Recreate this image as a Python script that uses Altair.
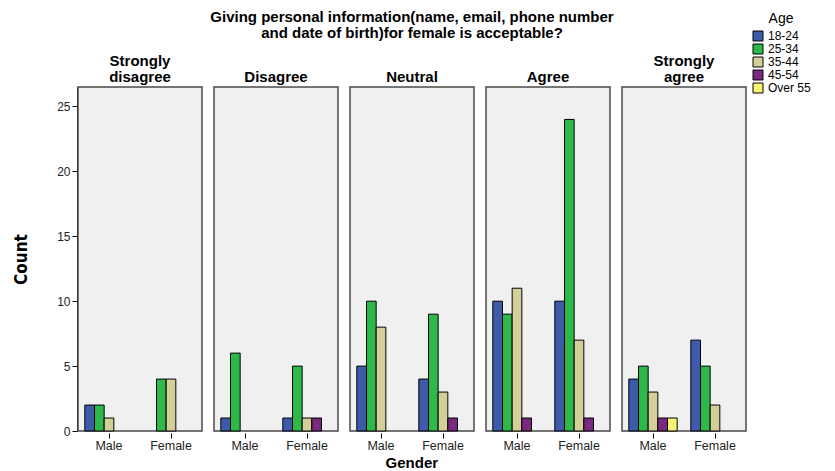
import altair as alt
import pandas as pd

responses = ["Strongly disagree", "Disagree", "Neutral", "Agree", "Strongly agree"]
genders = ["Male", "Female"]
ages = ["18-24", "25-34", "35-44", "45-54", "Over 55"]
colors = ["#3d5bab", "#2db84a", "#d4cf98", "#7a2a7e", "#f5f56f"]

# counts[response][gender] -> list over ages
counts = {
    "Strongly disagree": {"Male": [2, 2, 1, 0, 0], "Female": [0, 4, 4, 0, 0]},
    "Disagree": {"Male": [1, 6, 0, 0, 0], "Female": [1, 5, 1, 1, 0]},
    "Neutral": {"Male": [5, 10, 8, 0, 0], "Female": [4, 9, 3, 1, 0]},
    "Agree": {"Male": [10, 9, 11, 1, 0], "Female": [10, 24, 7, 1, 0]},
    "Strongly agree": {"Male": [4, 5, 3, 1, 1], "Female": [7, 5, 2, 0, 0]},
}

rows = []
for r in responses:
    for g in genders:
        for a, v in zip(ages, counts[r][g]):
            if v > 0:
                rows.append({"Response": r, "Gender": g, "Age": a, "Count": v})
df = pd.DataFrame(rows)

FONT = "Liberation Sans"
NARROW = "DejaVu Sans Condensed, Liberation Sans, sans-serif"

base = alt.Chart(df).mark_bar(stroke="black", strokeWidth=1).encode(
    x=alt.X("Gender:N", sort=genders, title=None,
            scale=alt.Scale(paddingInner=0.22, paddingOuter=0.11),
            axis=alt.Axis(labelAngle=0, labelFontSize=12.5, labelColor="#222",
                          tickColor="black", tickSize=5, domain=False,
                          labelPadding=1, labelFont=FONT)),
    xOffset=alt.XOffset("Age:N", sort=ages, scale=alt.Scale(domain=ages, paddingInner=0, paddingOuter=0)),
    y=alt.Y("Count:Q", title="Count",
            scale=alt.Scale(domain=[0, 26.5], nice=False),
            axis=alt.Axis(values=[0, 5, 10, 15, 20, 25], grid=False, domainColor="black",
                          tickColor="black", tickSize=5, labelFontSize=12, labelColor="#222",
                          labelFont=FONT, titleFont=NARROW,
                          titleFontSize=17, titleFontWeight="bold", titleColor="black",
                          titlePadding=26)),
    color=alt.Color("Age:N", sort=ages, scale=alt.Scale(domain=ages, range=colors),
                    legend=alt.Legend(title="Age", orient="none", legendX=674, legendY=-75,
                                      symbolType="square", symbolSize=100,
                                      symbolStrokeColor="black", symbolStrokeWidth=1,
                                      labelFontSize=12, labelFont=FONT, titleFont=FONT,
                                      titleFontSize=14, titleFontWeight="normal",
                                      titleAnchor="middle", rowPadding=-2,
                                      titlePadding=4, symbolOpacity=1)),
).properties(width=124, height=344)

label_expr = ("datum.value == 'Strongly disagree' ? ['Strongly', 'disagree'] : "
              "datum.value == 'Strongly agree' ? ['Strongly', 'agree'] : datum.value")

chart = base.facet(
    column=alt.Column("Response:N", sort=responses,
                      title=["Giving personal information(name, email, phone number",
                             "and date of birth)for female is acceptable?"],
                      header=alt.Header(labelOrient="top", titleOrient="top",
                                        labelExpr=label_expr, labelFontSize=15,
                                        labelFontWeight="bold", labelFont=FONT,
                                        labelColor="black",
                                        labelPadding=1, labelLineHeight=16,
                                        titleFontSize=15, titleFontWeight="bold",
                                        titleFont=FONT, titleColor="black",
                                        titleLineHeight=16, titlePadding=3)),
    spacing=10,
).properties(
    title=alt.TitleParams("Gender", orient="bottom", fontSize=15, font=FONT,
                          fontWeight="bold", anchor="middle", color="black", offset=4),
    padding={"left": 4, "top": 2, "right": 0, "bottom": 0},
).configure_view(
    fill="#f0f0f0", stroke="#4a4a4a", strokeWidth=1.5
)

chart.save("out.html", embed_options={"renderer": "svg", "actions": False})
